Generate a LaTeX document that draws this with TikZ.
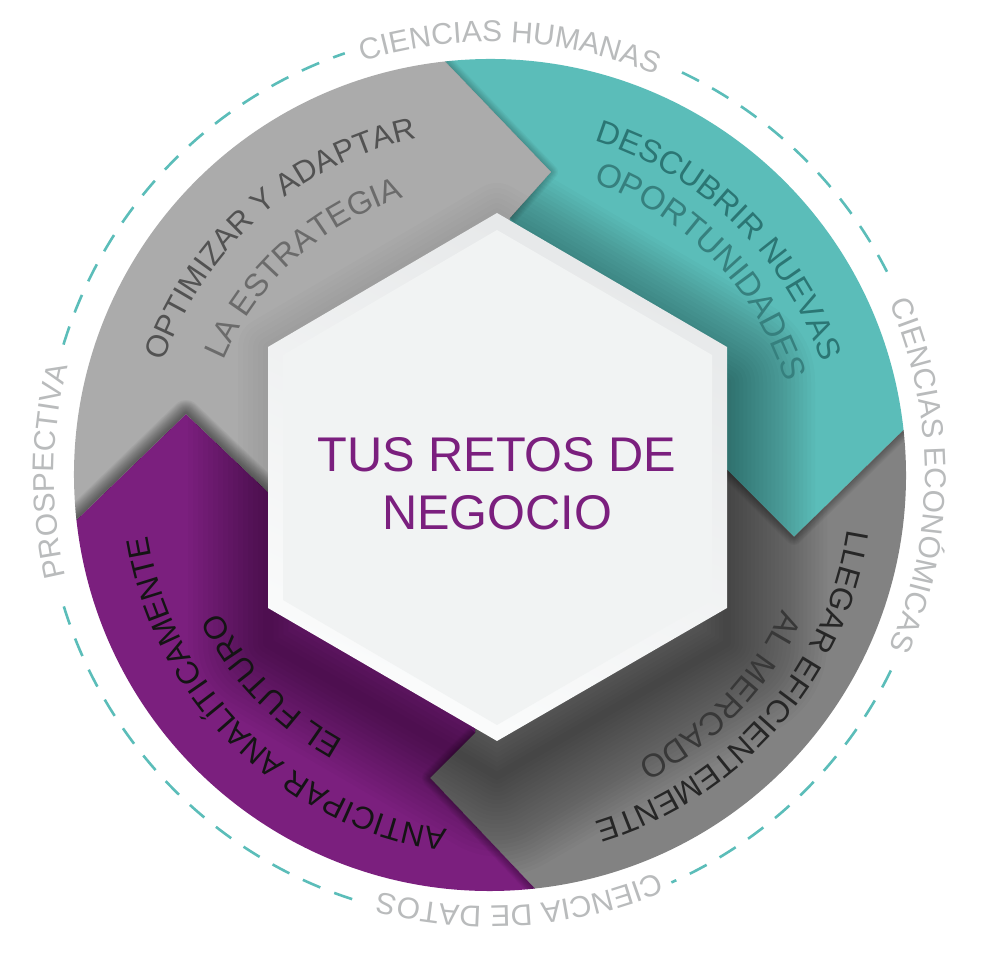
\documentclass[tikz,border=0pt]{standalone}
\usepackage{fontspec}
\setmainfont{Liberation Sans}
\usetikzlibrary{calc,decorations.text}
\definecolor{cteal}{HTML}{5BBDB9}
\definecolor{cdark}{HTML}{828282}
\definecolor{clight}{HTML}{ABABAB}
\definecolor{cpurple}{HTML}{7B1F7E}
\definecolor{clabel}{HTML}{B9BBBC}
\definecolor{chexa}{HTML}{F1F3F3}
\definecolor{chextop}{HTML}{E6E8E9}
\definecolor{chexbot}{HTML}{FBFCFC}
\definecolor{ctealtextA}{HTML}{2B7674}
\definecolor{ctealtextB}{HTML}{36807E}
\tikzset{
  dashring/.style={draw=cteal,line width=2.6pt,dash pattern=on 19pt off 15pt},
  hextitle/.style={text=cpurple,align=center,font=\fontsize{48.7}{58}\selectfont},
}
\newcommand{\arclabel}[7][C]{% centre, radius, centre angle, half span, size, colour, text
  \path[decorate,decoration={text along path,text align=center,
    text={|\fontsize{#5}{#5}\selectfont\color{#6}|#7}}]
    ($(#1)+({#3+#4}:#2)$) arc[start angle={#3+#4},end angle={#3-#4},radius=#2pt];
}
\newcommand{\softshadow}[3]{% path, widths, opacity
  \foreach \w in {#2}{\draw[black,opacity=#3,line width=\w pt,line join=round] #1;}
}
\begin{document}
\begin{tikzpicture}[x=1pt,y=1pt]
\useasboundingbox (0,0) rectangle (983,960);
\fill[white] (0,0) rectangle (983,960);
\coordinate (C) at (490,485);
\coordinate (Cp) at (496,479);
\coordinate (a1) at ($(C)+(96.2:416)$);
\coordinate (a2) at ($(C)+(6.2:416)$);
\coordinate (a3) at ($(C)+(-83.8:416)$);
\coordinate (a4) at ($(C)+(-173.8:416)$);
\coordinate (tipL) at (551,788);
\coordinate (tipT) at (794,423);
\coordinate (tipD) at (430,182);
\coordinate (tipP) at (186,546);
\coordinate (j1) at (510,742);
\coordinate (j2) at (727,490);
\coordinate (j3) at (475,227);
\coordinate (j4) at (268,468);
\def\segT{(a1) arc[start angle=96.2,end angle=6.2,radius=416pt] -- (tipT) -- (j2) -- (C) -- (j1) -- (tipL) -- cycle}
\def\segD{(a2) arc[start angle=6.2,end angle=-83.8,radius=416pt] -- (tipD) -- (j3) -- (C) -- (j2) -- (tipT) -- cycle}
\def\segP{(a3) arc[start angle=-83.8,end angle=-173.8,radius=416pt] -- (tipP) -- (j4) -- (C) -- (j3) -- (tipD) -- cycle}
\def\segL{(a4) arc[start angle=-173.8,end angle=-263.8,radius=416pt] -- (tipL) -- (j1) -- (C) -- (j4) -- (tipP) -- cycle}
\def\hexO{(497,747) -- (727,613) -- (727,352) -- (497,219) -- (268,352) -- (268,613) -- cycle}
\def\hexS{(497,712) -- (727,578) -- (727,317) -- (497,184) -- (268,317) -- (268,578) -- cycle}
\def\hexI{(497,730) -- (712,605) -- (712,360) -- (497,235) -- (283,360) -- (283,605) -- cycle}
% dashed ring
\draw[dashring] ($(C)+(64.5:446)$) arc[start angle=64.5,end angle=26.5,radius=446pt];
\draw[dashring] ($(C)+(-26:446)$) arc[start angle=-26,end angle=-66,radius=446pt];
\draw[dashring] ($(C)+(-108:446)$) arc[start angle=-108,end angle=-163.4,radius=446pt];
\draw[dashring] ($(C)+(163:446)$) arc[start angle=163,end angle=109,radius=446pt];
% segments
\fill[cteal] \segT;
\fill[cdark] \segD;
\fill[cpurple] \segP;
\fill[clight] \segL;
% shadow of the hexagon
\begin{scope}
  \clip \segT;
  \softshadow{\hexS}{8,16,...,176}{0.018}
\end{scope}
\begin{scope}
  \clip \segD;
  \softshadow{\hexS}{8,16,...,200}{0.019}
\end{scope}
\begin{scope}
  \clip \segP;
  \softshadow{\hexS}{10,20,...,160}{0.024}
\end{scope}
\begin{scope}
  \clip \segL;
  \softshadow{\hexO}{10,20,...,60}{0.012}
\end{scope}
% shadows of the arrow tips
\begin{scope}
  \clip \segD;
  \softshadow{(j2) -- (tipT) -- (a2)}{2,4,...,16}{0.04}
\end{scope}
\begin{scope}
  \clip \segP;
  \softshadow{(j3) -- (tipD) -- (a3)}{2,4,...,16}{0.04}
\end{scope}
\begin{scope}
  \clip \segL;
  \softshadow{(j4) -- (tipP) -- (a4)}{2,4,...,28}{0.04}
\end{scope}
\begin{scope}
  \clip \segT;
  \softshadow{(j1) -- (tipL) -- (a1)}{2,4,...,14}{0.03}
\end{scope}
% hexagon
\shade[top color=chextop,bottom color=chexbot,shading angle=-25] \hexO;
\fill[chexa] \hexI;
\node[hextitle] (title) at (497,476) {TUS RETOS DE\\NEGOCIO};
% segment texts
\arclabel{345}{131.5}{50}{31}{black!68}{OPTIMIZAR Y ADAPTAR}
\arclabel{290}{132}{50}{32}{black!58}{LA ESTRATEGIA}
\arclabel{350}{45.7}{50}{32}{ctealtextA}{DESCUBRIR NUEVAS}
\arclabel{310}{44}{50}{33}{ctealtextB}{OPORTUNIDADES}
\arclabel{362}{-41}{50}{31.5}{black!85}{LLEGAR EFICIENTEMENTE}
\arclabel{322}{-43.7}{50}{32.5}{black!78}{AL MERCADO}
\arclabel[Cp]{352}{-134.5}{50}{31.5}{black!92}{ANTICIPAR ANALÍTICAMENTE}
\arclabel{303}{-136}{50}{32}{black!92}{EL FUTURO}
% ring labels
\arclabel{433}{87.3}{40}{30}{clabel}{CIENCIAS HUMANAS}
\arclabel{435}{0}{40}{30}{clabel}{CIENCIAS ECONÓMICAS}
\arclabel{431}{-86}{40}{30}{clabel}{CIENCIA DE DATOS}
\arclabel{436}{179.5}{40}{30}{clabel}{PROSPECTIVA}
\end{tikzpicture}
\end{document}
